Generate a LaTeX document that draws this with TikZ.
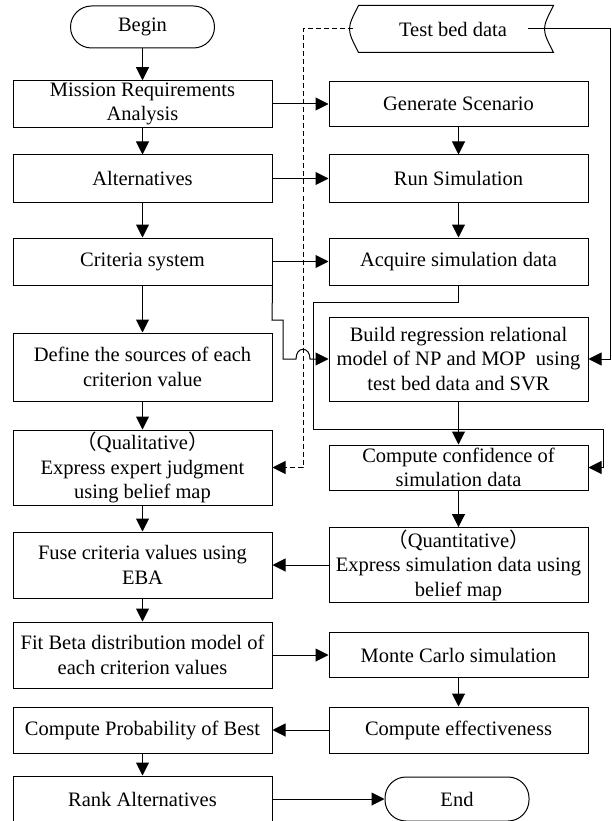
\documentclass[tikz,border=0pt]{standalone}
\usepackage{fontspec}
\setmainfont{Liberation Serif}
\newfontfamily\cjk{Noto Sans CJK SC}
\usetikzlibrary{arrows.meta}

\begin{document}
\begin{tikzpicture}[x=1pt, y=-1pt]%
        \tikzstyle{box}=[draw, line width=1pt, minimum width=259pt, minimum height=46pt, align=center, inner sep=2pt, font=\fontsize{20.5}{24.5}\selectfont];%
        \tikzstyle{term}=[box, minimum width=144pt, minimum height=42pt, rounded corners=21pt];%
        \tikzstyle{arr}=[-{Triangle[length=13pt, width=13pt]}, line width=1pt];%
        \useasboundingbox (0, 0) rectangle (612, 821);
        \clip (0, 0) rectangle (612, 821);

        % left column
        \node (begin) at (142.5, 27) [term] {Begin};
        \node (mra) at (142.5, 104) [box] {Mission Requirements\\Analysis};
        \node (alt) at (142.5, 178.5) [box, minimum height=47pt] {Alternatives};
        \node (crit) at (142.5, 261.5) [box, minimum height=47pt] {Criteria system};
        \node (def) at (142.5, 367) [box, minimum height=68pt] {Define the sources of each\\criterion value};
        \node (qual) at (142.5, 467.5) [box, minimum height=75pt] {{\cjk （}Qualitative{\cjk ）}\\Express expert judgment\\using belief map};
        \node (fuse) at (142.5, 565) [box, minimum height=66pt] {Fuse criteria values using\\EBA};
        \node (fit) at (142.5, 655) [box, minimum height=66pt] {Fit Beta distribution model of\\each criterion values};
        \node (prob) at (142.5, 730) [box] {Compute Probability of Best};
        \node (rank) at (142.5, 799) [box] {Rank Alternatives};

        % right column
        \node (tbd) at (453, 29) [box, draw=none, minimum width=200pt] {Test bed data};
        \draw[line width=1pt] ([xshift=6pt]tbd.north west) -- (tbd.north east) .. controls ([xshift=-12pt]tbd.east) .. (tbd.south east) -- ([xshift=6pt]tbd.south west) .. controls ([xshift=-6pt]tbd.west) .. cycle;
        \node (gen) at (458.5, 104) [box, minimum height=45pt] {Generate Scenario};
        \node (run) at (458.5, 178.5) [box, minimum height=47pt] {Run Simulation};
        \node (acq) at (458.5, 261.5) [box, minimum height=47pt] {Acquire simulation data};
        \node (build) at (458.5, 359) [box, minimum height=84pt] {Build regression relational\\model of NP and MOP\ \ using\\test bed data and SVR};
        \node (conf) at (458.5, 467.5) [box, minimum height=45pt] {Compute confidence of\\simulation data};
        \node (quant) at (458.5, 565) [box, minimum height=74pt] {{\cjk （}Quantitative{\cjk ）}\\Express simulation data using\\belief map};
        \node (monte) at (458.5, 655) [box, minimum height=45pt] {Monte Carlo simulation};
        \node (eff) at (458.5, 730) [box] {Compute effectiveness};
        \node (end) at (457, 799) [term, minimum height=44pt] {End};

        \draw (begin) edge[arr] (mra);
        \draw (mra) edge[arr] (alt);
        \draw (alt) edge[arr] (crit);
        \draw (crit) edge[arr] (def);
        \draw (def) edge[arr] (qual);
        \draw (qual) edge[arr] (fuse);
        \draw (fuse) edge[arr] (fit);
        \draw (prob) edge[arr] (rank);

        \draw (mra) edge[arr] (gen);
        \draw (alt) edge[arr] (run);
        \draw (crit) edge[arr] (acq);
        \draw (gen) edge[arr] (run);
        \draw (run) edge[arr] (acq);
        \draw (build) edge[arr] (conf);
        \draw (conf) edge[arr] (quant);
        \draw (quant) edge[arr] (fuse);
        \draw (fit) edge[arr] (monte);
        \draw (monte) edge[arr] (eff);
        \draw (eff) edge[arr] (prob);
        \draw (rank) edge[arr] (end);

        % routed lines
        \draw[arr] (crit.south east) -- (272, 320) -- (283, 320) -- (283, 359) -- (296, 359) .. controls (296, 346) and (310, 346) .. (310, 359) -- (build.west);
        \draw[arr] (acq.south) |- (313, 302) |- (603, 429) |- (conf.east);
        \draw[arr] ([xshift=-26pt]tbd.east) -| (610, 359) -- (build.east);
        \draw[arr, dash pattern=on 5pt off 3pt] (tbd.west) -| (303, 467.5) -- (qual.east);
    \end{tikzpicture}
\end{document}
